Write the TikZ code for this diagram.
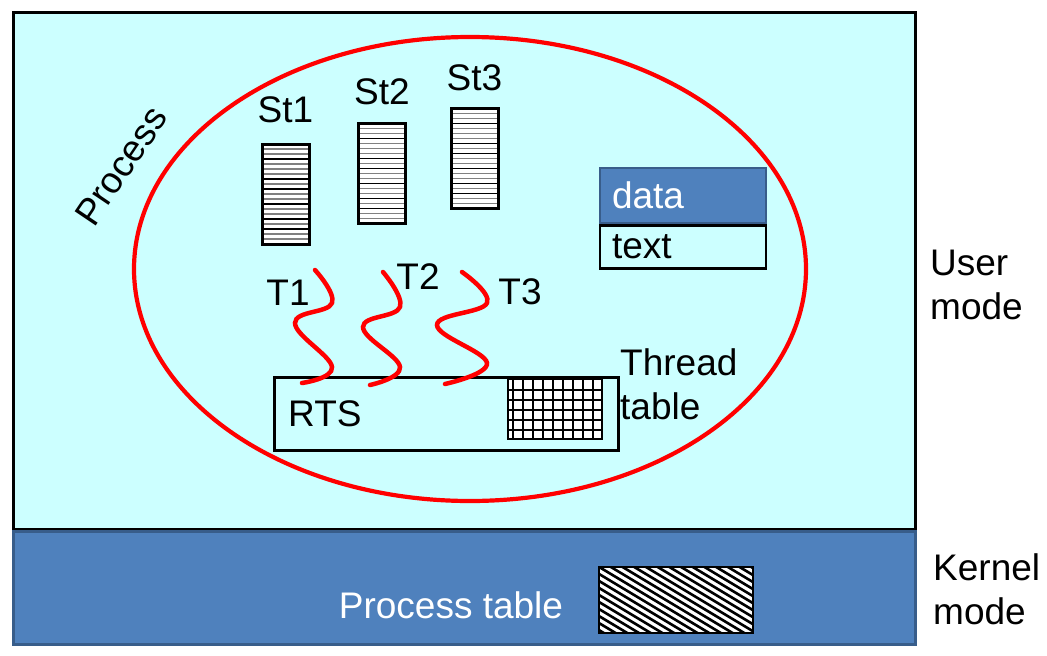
\documentclass[tikz,border=0pt]{standalone}
\usepackage{fontspec}
\setmainfont{Liberation Sans}
\usetikzlibrary{positioning}
\definecolor{usercyan}{HTML}{CCFFFF}
\definecolor{kernblue}{HTML}{4F81BD}
\definecolor{kernedge}{HTML}{385D8A}
\tikzset{
  lbl/.style={font=\fontsize{37}{44}\selectfont, inner sep=0pt},
  stackbox/.style={draw, line width=3, fill=white, minimum width=47, minimum height=100, inner sep=0pt,
    path picture={\foreach \c [count=\k] in {gray,gray,black,gray,gray,gray,black,gray,black,gray,gray,black,gray,gray,black,gray,black,gray,gray}
      \draw[\c, line width=1.3] ([yshift=-\k*5pt]path picture bounding box.north west) -- ([yshift=-\k*5pt]path picture bounding box.north east);}},
  thread/.style={red, line width=4.5, line cap=round},
}
\begin{document}
\begin{tikzpicture}[x=1pt,y=-1pt]
\useasboundingbox (0,0) rectangle (1047,656);
% user space and kernel space
\node[draw, line width=3, fill=usercyan, minimum width=902, minimum height=517, anchor=north west] (user) at (12,11) {};
\node[draw=kernedge, line width=3, fill=kernblue, minimum width=902, minimum height=113, anchor=north west] (kernel) at (12,530) {};
% process
\draw[red, line width=4.2] (470,269) ellipse [x radius=336, y radius=232];
\node[lbl, rotate=56] (proc) at (121,166) {Process};
% stacks
\node[stackbox] (st1) at (285.5,194) {};
\node[stackbox] (st2) at (382,173.5) {};
\node[stackbox] (st3) at (474.5,158.5) {};
\node[lbl, above=19pt of st1] (st1lbl) {St1};
\node[lbl, above=17pt of st2] (st2lbl) {St2};
\node[lbl, above=16pt of st3] (st3lbl) {St3};
% data and text
\node[draw=kernedge, line width=2, fill=kernblue, text=white, lbl, inner xsep=12, text width=142, minimum height=55, align=left, anchor=north west] (data) at (599,167) {data};
\node[draw, line width=2.5, lbl, inner xsep=12, text width=142, minimum height=43, align=left, below=0pt of data] (text) {text};
% run-time system
\node[draw, line width=3, minimum width=344, minimum height=73, anchor=north west] (rts) at (273,376) {};
\node[lbl, anchor=west] (rtslbl) at ([xshift=15]rts.west) {RTS};
\node[draw, line width=1.5, fill=white, minimum width=94, minimum height=60, anchor=north west, inner sep=0pt] (ttab) at (507,378) {};
\foreach \i in {0,...,8} \draw[line width=1.5] ([xshift=6+\i*10]ttab.north west) -- ([xshift=6+\i*10]ttab.south west);
\foreach \j in {1,...,5} \draw[line width=1.5] ([yshift=-2-\j*10]ttab.north west) -- ([yshift=-2-\j*10]ttab.north east);
\node[lbl, align=left, anchor=west] (ttablbl) at (620,384) {Thread\\table};
% threads
\coordinate (t1) at (315,270);
\coordinate (t2) at (383,272);
\coordinate (t3) at (462,272);
\draw[thread] plot[smooth, tension=0.7] coordinates {(t1) (332,303) (295,323) (332,367) (302,383)};
\draw[thread] plot[smooth, tension=0.7] coordinates {(t2) (400,307) (363,327) (400,367) (370,385)};
\draw[thread] plot[smooth, tension=0.7] coordinates {(t3) (487,303) (437,325) (487,363) (445,384)};
\node[lbl] (t1lbl) at (288,293) {T1};
\node[lbl] (t2lbl) at (418,277) {T2};
\node[lbl] (t3lbl) at (520,292) {T3};
% process table
\node[lbl, text=white] (ptablbl) at (451,605) {Process table};
\node[draw, line width=1.5, fill=white, minimum width=154, minimum height=66, anchor=north west, inner sep=0pt,
  path picture={\foreach \k in {-11,...,14} \draw[line width=2.6] ([xshift=\k*11.7pt]path picture bounding box.north west) -- ++(130,78);}] (ptab) at (598,566) {};
% modes
\node[lbl, align=left, anchor=west] (umode) at (930,284.5) {User\\mode};
\node[lbl, align=left, anchor=west] (kmode) at (933,589.5) {Kernel\\mode};
\end{tikzpicture}
\end{document}
